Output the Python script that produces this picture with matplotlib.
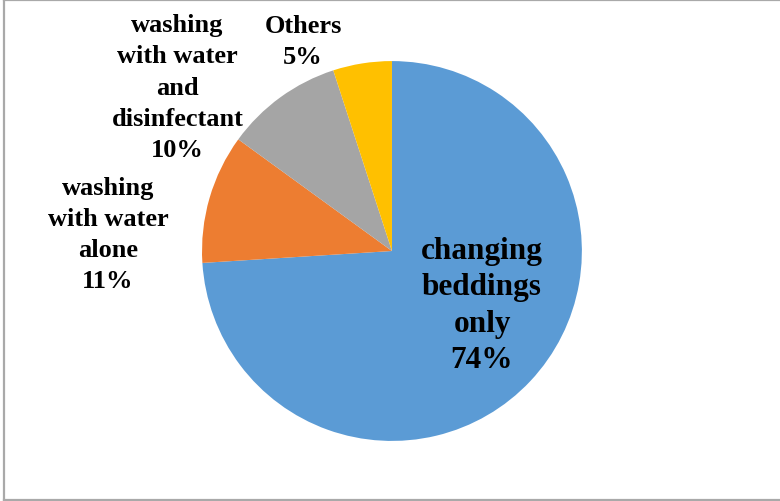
import matplotlib.pyplot as plt
from matplotlib.lines import Line2D

categories = ["changing\nbeddings\nonly", "washing\nwith water\nalone",
              "washing\nwith water\nand\ndisinfectant", "Others"]
shares = [74, 11, 10, 5]
colors = ["#5B9BD5", "#ED7D31", "#A5A5A5", "#FFC000"]

# where each label sits, in pie radius units
label_pos = [(0.474, -0.285), (-1.495, 0.089), (-1.13, 0.863), (-0.468, 1.105)]

plt.rcParams["font.family"] = ["Liberation Serif", "DejaVu Serif"]

fig = plt.figure(figsize=(7.8, 5.02), dpi=100)
ax = fig.add_axes([0.259, 0.1195, 0.487, 0.757])

wedges, _ = ax.pie(shares, colors=colors, startangle=90, counterclock=False,
                   radius=1.0, wedgeprops=dict(linewidth=0))
ax.set_xlim(-1, 1)
ax.set_ylim(-1, 1)
ax.set_aspect("equal")
ax.axis("off")

for i, (name, val) in enumerate(zip(categories, shares)):
    x, y = label_pos[i]
    if i == 0:
        ax.text(x, y, f"{name}\n{val}%", ha="center", va="center",
                fontsize=22.5, fontweight="bold", linespacing=1.34)
    else:
        ax.text(x, y, f"{name}\n{val}%", ha="center", va="center",
                fontsize=19, fontweight="bold", linespacing=1.45)

# chart area outline (left, top, bottom only)
border = "#A9A9A9"
fig.add_artist(Line2D([0.0045, 0.0045], [0.002, 0.999], color=border, lw=1.6))
fig.add_artist(Line2D([0.0045, 1.0], [0.999, 0.999], color=border, lw=1.6))
fig.add_artist(Line2D([0.0045, 1.0], [0.002, 0.002], color=border, lw=1.6))

fig.savefig("out.png", dpi=100, facecolor="white")
